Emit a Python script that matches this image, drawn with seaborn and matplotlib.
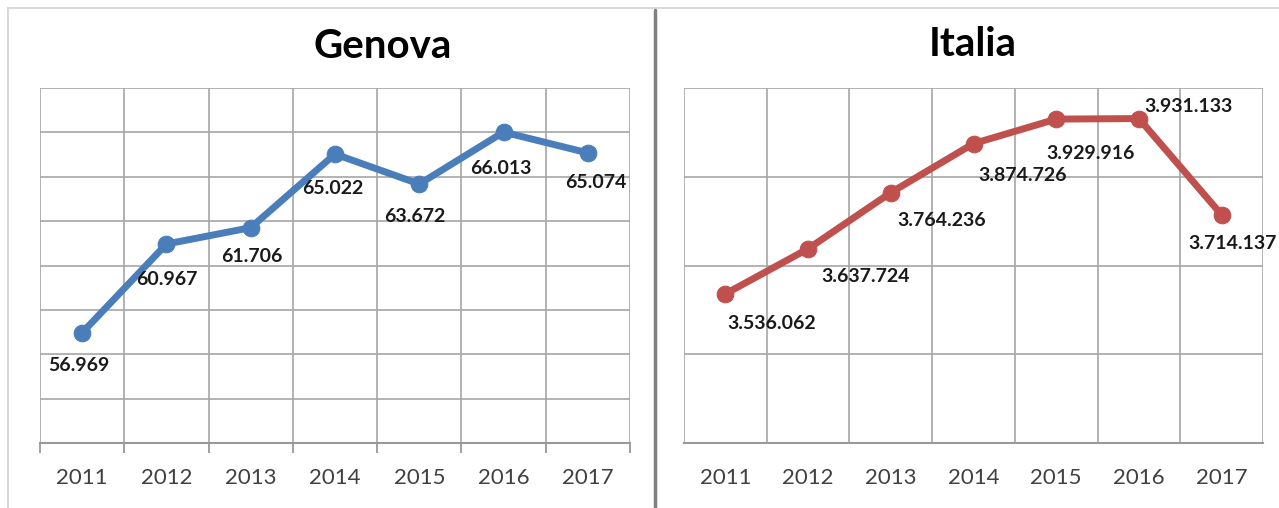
import matplotlib
matplotlib.use('Agg')
import matplotlib.pyplot as plt
import pandas as pd
import seaborn as sns
from matplotlib.ticker import MultipleLocator, FixedLocator, NullFormatter

# Data
years = [2011, 2012, 2013, 2014, 2015, 2016, 2017]
genova = [56969, 60967, 61706, 65022, 63672, 66013, 65074]
italia = [3536062, 3637724, 3764236, 3874726, 3929916, 3931133, 3714137]

# Label offsets (pixels, from the point centre)
genova_offsets = [(-3, -33), (0, -35), (1, -29), (-2, -34), (-5, -32), (-3, -36), (8, -30)]
italia_offsets = [(46, -30), (58, -28), (51, -28), (49, -32), (34, -34), (50, 12), (11, -29)]

sns.set_style('white')
plt.rcParams['font.family'] = ['Lato', 'DejaVu Sans']

GRID = '#a6a6a6'


def fmt(v):
    return f'{v:,}'.replace(',', '.')


def draw_panel(ax, values, color, ylim, ystep, offsets, ticks_out):
    df = pd.DataFrame({'year': years, 'value': values})
    sns.lineplot(data=df, x='year', y='value', ax=ax, color=color,
                 linewidth=5, marker='o', markersize=12,
                 markeredgecolor=color, zorder=3)
    ax.set_xlim(years[0] - 0.5, years[-1] + 0.5)
    ax.set_ylim(*ylim)
    ax.yaxis.set_major_locator(MultipleLocator(ystep))
    ax.yaxis.set_major_formatter(NullFormatter())
    ax.set_xticks(years)
    ax.set_xticklabels([str(y) for y in years])
    ax.xaxis.set_minor_locator(FixedLocator([y + 0.5 for y in [years[0] - 1] + years]))
    ax.grid(True, which='major', axis='y', color=GRID, linewidth=1.2)
    ax.grid(True, which='minor', axis='x', color=GRID, linewidth=1.2)
    ax.grid(False, which='major', axis='x')
    ax.set_xlabel('')
    ax.set_ylabel('')
    for s in ['top', 'right', 'left']:
        ax.spines[s].set_visible(False)
    ax.spines['bottom'].set_color('#999999')
    ax.spines['bottom'].set_linewidth(1.5)
    ax.tick_params(axis='y', length=0)
    ax.tick_params(axis='x', which='major', bottom=True, length=0, pad=18,
                   labelsize=16, labelcolor='#404040')
    if ticks_out:
        ax.tick_params(axis='x', which='minor', bottom=True, length=7, width=1.3,
                       color='#999999', direction='out')
    else:
        ax.tick_params(axis='x', which='minor', length=0)
    for x, v, (dx, dy) in zip(years, values, offsets):
        ax.annotate(fmt(v), (x, v), xytext=(dx, dy), textcoords='offset pixels',
                    ha='center', va='center', fontsize=14, fontweight='bold',
                    color='#1a1a1a', zorder=4, annotation_clip=False)


fig = plt.figure(figsize=(12.79, 5.08), dpi=100)
ax1 = fig.add_axes([40 / 1279, 1 - 443 / 508, 590 / 1279, 355 / 508])
ax2 = fig.add_axes([684 / 1279, 1 - 443 / 508, 579 / 1279, 355 / 508])

draw_panel(ax1, genova, '#4a7ebb', (52000, 68000), 2000, genova_offsets, True)
draw_panel(ax2, italia, '#c0504d', (3200000, 4000000), 200000, italia_offsets, False)

fig.text(383 / 1279, 1 - 46 / 508, 'Genova', ha='center', va='center',
         fontsize=29, fontweight='bold', color='black')
fig.text(973 / 1279, 1 - 45 / 508, 'Italia', ha='center', va='center',
         fontsize=29, fontweight='bold', color='black')

# outer frame lines and the separator between the two charts
fig.add_artist(plt.Line2D([8 / 1279, 1], [1 - 8 / 508] * 2, color='#d9d9d9', linewidth=1.5))
fig.add_artist(plt.Line2D([8 / 1279] * 2, [0, 1 - 8 / 508], color='#d9d9d9', linewidth=1.5))
fig.add_artist(plt.Line2D([655 / 1279] * 2, [0, 1 - 10 / 508], color='#808080', linewidth=2.5))

fig.savefig('out.png', dpi=100)
